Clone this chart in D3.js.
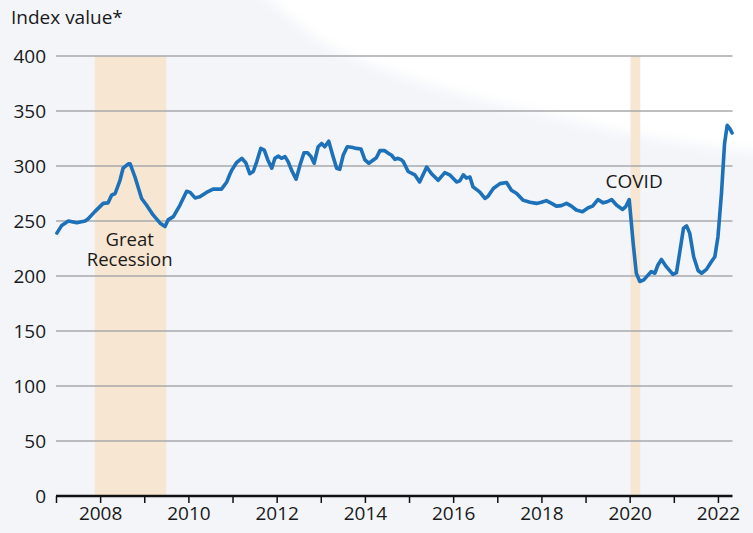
<!DOCTYPE html>
<html>
<head>
<meta charset="utf-8">
<script src="https://cdn.jsdelivr.net/npm/d3@7"></script>
<style>
  html, body { margin: 0; padding: 0; background: #f3f5f9; }
  svg { display: block; }
  text { font-family: "Open Sans", "Noto Sans", sans-serif; fill: #1a1a1a; }
</style>
</head>
<body>
<svg id="chart" width="753" height="533"></svg>
<script>
// ---- Data ----
const years = [
  2007.02, 2007.13, 2007.28, 2007.47, 2007.66, 2007.73, 2007.88, 2008.07, 2008.18, 2008.26,
  2008.34, 2008.45, 2008.52, 2008.64, 2008.68, 2008.79, 2008.94, 2009.05, 2009.20, 2009.36,
  2009.47, 2009.54, 2009.66, 2009.81, 2009.96, 2010.04, 2010.15, 2010.26, 2010.41, 2010.56,
  2010.75, 2010.87, 2010.94, 2010.98, 2011.09, 2011.21, 2011.30, 2011.39, 2011.47, 2011.55,
  2011.64, 2011.72, 2011.80, 2011.89, 2011.96, 2012.04, 2012.11, 2012.19, 2012.26, 2012.34,
  2012.44, 2012.53, 2012.62, 2012.70, 2012.78, 2012.85, 2012.94, 2013.02, 2013.09, 2013.18,
  2013.28, 2013.36, 2013.43, 2013.51, 2013.60, 2013.70, 2013.81, 2013.91, 2014.00, 2014.09,
  2014.19, 2014.26, 2014.34, 2014.44, 2014.53, 2014.60, 2014.68, 2014.75, 2014.83, 2014.87,
  2014.98, 2015.13, 2015.24, 2015.40, 2015.51, 2015.66, 2015.81, 2015.92, 2016.08, 2016.15,
  2016.23, 2016.30, 2016.38, 2016.45, 2016.60, 2016.72, 2016.79, 2016.91, 2017.06, 2017.21,
  2017.32, 2017.44, 2017.58, 2017.74, 2017.89, 2018.00, 2018.11, 2018.23, 2018.34, 2018.45,
  2018.57, 2018.68, 2018.79, 2018.93, 2019.06, 2019.16, 2019.28, 2019.40, 2019.49, 2019.59,
  2019.70, 2019.84, 2019.91, 2019.99, 2020.08, 2020.15, 2020.23, 2020.32, 2020.42, 2020.49,
  2020.57, 2020.64, 2020.72, 2020.83, 2020.98, 2021.06, 2021.13, 2021.22, 2021.29, 2021.36,
  2021.45, 2021.55, 2021.63, 2021.74, 2021.85, 2021.93, 2022.00, 2022.08, 2022.15, 2022.21,
  2022.27, 2022.32
];
const indexValues = [
  239, 246, 250, 248.5, 250, 252, 258.5, 266, 266.5, 273.5,
  275, 287, 298, 302, 302, 290, 270.5, 264.5, 255.5, 248,
  245, 251, 254, 264.5, 277, 276, 271, 272, 276, 279,
  279, 285.5, 292.5, 296, 303, 307, 303, 293, 295, 304,
  316, 314.5, 305.5, 298, 307, 309, 307, 308.5, 304, 296,
  288, 301, 312, 312, 308.5, 302.5, 317.5, 320.5, 317.5, 322.5,
  308.5, 298, 297, 310, 317.5, 317, 316, 315.5, 305.5, 302.5,
  305.5, 307.5, 314, 314, 311.5, 310, 306, 307, 305.5, 304,
  295, 292, 285.5, 299, 293, 287, 294, 292, 285.5, 286.5,
  292, 289, 290, 281, 276.5, 270.5, 272.5, 279.5, 284, 285,
  278, 275, 269, 267, 266, 267, 268.5, 266, 263.5, 264,
  266, 263.5, 260, 258.5, 262, 263.5, 269.5, 266.5, 267.5, 269.5,
  264.5, 260.5, 263, 269.5, 229.5, 202.5, 195, 196.5, 201, 204,
  202.5, 210, 215, 208.5, 201.5, 203, 220.5, 243.5, 245.5, 239,
  217.5, 205, 202.5, 206, 213, 217.5, 235.5, 275, 320.5, 337,
  334, 330
];
const yTicks = [0, 50, 100, 150, 200, 250, 300, 350, 400];
const xTickYears = [2007, 2008, 2009, 2010, 2011, 2012, 2013, 2014, 2015, 2016, 2017, 2018, 2019, 2020, 2021, 2022];
const xLabelYears = [2008, 2010, 2012, 2014, 2016, 2018, 2020, 2022];
const bandNames = ["Great Recession", "COVID"];
const bandStart = [2007.88, 2020.02];
const bandEnd = [2009.5, 2020.24];
const yTitle = "Index value*";

// ---- Layout ----
const svg = d3.select("#chart");
const W = 753, H = 533;
const mLeft = 56, mRight = 732.5, mTop = 56, mBottom = 496;

// faint background shape
const defs = svg.append("defs");
defs.append("filter").attr("id", "soft").attr("x", "-10%").attr("y", "-10%").attr("width", "120%").attr("height", "130%")
  .append("feGaussianBlur").attr("stdDeviation", 6);
svg.append("rect").attr("width", W).attr("height", H).attr("fill", "#f3f5f9");
svg.append("path")
  .attr("d", "M250,-20 C290,20 320,45 350,56 C420,85 480,100 535,112 C600,128 680,146 780,154 L780,-20 Z")
  .attr("fill", "#ffffff")
  .attr("filter", "url(#soft)");

const x = d3.scaleLinear().domain([2007, 2022.33]).range([mLeft, mRight]);
const y = d3.scaleLinear().domain([0, 400]).range([mBottom, mTop]);

// bands
const bands = bandNames.map((n, i) => ({name: n, s: bandStart[i], e: bandEnd[i]}));
svg.append("g").selectAll("rect").data(bands).join("rect")
  .attr("x", d => x(d.s))
  .attr("width", d => x(d.e) - x(d.s))
  .attr("y", y(400))
  .attr("height", y(0) - y(400))
  .attr("fill", "#f7e6d1");

// gridlines
svg.append("g").selectAll("line").data(yTicks.filter(v => v > 0)).join("line")
  .attr("x1", mLeft).attr("x2", mRight)
  .attr("y1", d => y(d)).attr("y2", d => y(d))
  .attr("stroke", "#a9a9ab").attr("stroke-width", 1.3);

// y labels
svg.append("g").selectAll("text").data(yTicks).join("text")
  .attr("x", 46).attr("y", d => y(d))
  .attr("dy", "0.36em")
  .attr("text-anchor", "end")
  .attr("font-size", 19)
  .text(d => d);

// title
svg.append("text").attr("x", 11).attr("y", 24).attr("font-size", 19).text(yTitle);

// x axis
const xAxis = d3.axisBottom(x)
  .tickValues(xTickYears)
  .tickSize(7)
  .tickFormat(d => xLabelYears.includes(d) ? d3.format("d")(d) : "");
const gx = svg.append("g").attr("transform", `translate(0,${mBottom})`).call(xAxis);
gx.select(".domain").attr("stroke", "#111").attr("stroke-width", 2.5)
  .attr("d", `M${mLeft},0H${mRight}`);
gx.selectAll(".tick line").attr("stroke", "#111").attr("stroke-width", 1.5);
gx.selectAll(".tick text").attr("font-size", 19).attr("y", 11).attr("dy", "0.71em")
  .attr("font-family", "'Open Sans', 'Noto Sans', sans-serif").attr("fill", "#1a1a1a");

// line
const pts = years.map((yr, i) => [yr, indexValues[i]]);
svg.append("path").datum(pts)
  .attr("fill", "none")
  .attr("stroke", "#1d71b8")
  .attr("stroke-width", 3.6)
  .attr("stroke-linejoin", "round")
  .attr("stroke-linecap", "round")
  .attr("d", d3.line().x(d => x(d[0])).y(d => y(d[1])));

// annotations
svg.append("text").attr("text-anchor", "middle").attr("font-size", 18.5)
  .attr("x", x(2008.67)).attr("y", 246).text("Great");
svg.append("text").attr("text-anchor", "middle").attr("font-size", 18.5)
  .attr("x", x(2008.67)).attr("y", 266).text("Recession");
svg.append("text").attr("text-anchor", "middle").attr("font-size", 19)
  .attr("x", x(2020.1)).attr("y", 188).text("COVID");
</script>
</body>
</html>
